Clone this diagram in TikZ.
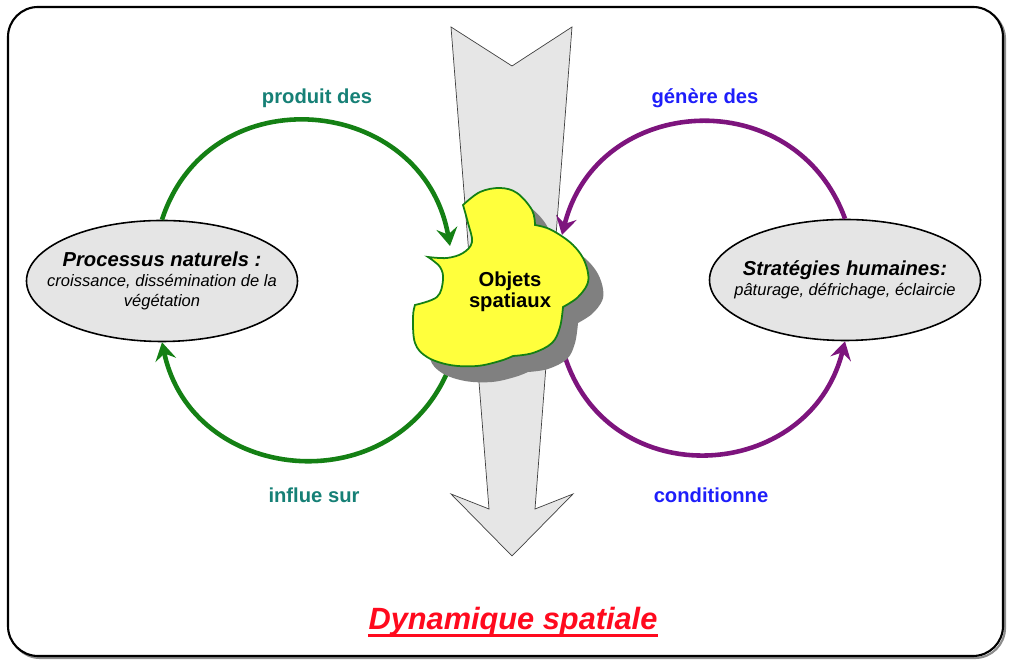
\documentclass[tikz,border=0pt]{standalone}
\usepackage{fontspec}
\setmainfont{Liberation Sans}
\usepackage{xcolor}
\usetikzlibrary{arrows.meta,shapes.geometric}
\definecolor{natgreen}{RGB}{20,128,20}
\definecolor{humpurple}{RGB}{125,20,125}
\definecolor{tealtxt}{RGB}{22,128,118}
\definecolor{bluetxt}{RGB}{30,30,250}
\definecolor{objyellow}{RGB}{255,255,60}
\definecolor{arrowgrey}{RGB}{230,230,230}
\definecolor{titlered}{RGB}{255,10,30}
\tikzset{
frame/.style={
draw=black,
fill=white,
line width=1.2pt,
rounded corners=6mm
},
frameshadow/.style={
draw=black!45,
line width=1.2pt,
rounded corners=6mm
},
bigarrow/.style={
draw=black!75,
fill=arrowgrey,
line width=0.4pt
},
ellipsebox/.style={
draw,
ellipse,
fill=black!10,
line width=0.9pt,
minimum width=54.2mm,
minimum height=24.2mm,
inner sep=0pt
},
ellipsetext/.style={
align=center,
font=\itshape\fontsize{9.4}{11.6}\selectfont
},
looplabel/.style={
font=\bfseries\fontsize{11.5}{13.8}\selectfont
},
natloop/.style={
natgreen,
line width=2.6pt,
-{Stealth[length=3.6mm,width=4.2mm,inset=1.3mm]}
},
humloop/.style={
humpurple,
line width=2.6pt,
-{Stealth[length=3.6mm,width=4.2mm,inset=1.3mm]}
}
}
\def\cloudpath{plot[smooth,tension=.6] coordinates {(463,459) (480,472) (500,476) (517,471) (532,454) (535,439)}
-- plot[smooth,tension=.6] coordinates {(535,439) (547,436) (560,429) (573,419) (583,406) (588,391) (587,379) (577,366) (563,357)}
-- plot[smooth,tension=.6] coordinates {(563,357) (560,337) (552,321) (533,311) (513,308)}
-- plot[smooth,tension=.6] coordinates {(513,308) (500,303) (477,298) (450,299) (427,307) (415,321) (413,347) (415,359)}
-- plot[smooth,tension=.6] coordinates {(415,359) (437,367) (443,384) (440,397) (428,407)}
-- plot[smooth,tension=.6] coordinates {(428,407) (447,406) (463,411) (472,422) (468,441) (463,459)}
-- cycle}

\begin{document}
\begin{tikzpicture}[x=0.2mm,y=0.2mm]
\useasboundingbox (0,0) rectangle (1010,664);
\draw[frameshadow] (10,6) rectangle (1005,655);
\draw[frame] (8,8) rectangle (1003,657);

\draw[bigarrow] (451,637) -- (512,598) -- (572,637) -- (535,155) -- (573,170)
  -- (512,108) -- (451,170) -- (489,155) -- cycle;

\node[ellipsebox] (nat) at (162,383) {};
\node[ellipsetext] (natText) at (nat) {{\bfseries\fontsize{11.5}{13.8}\selectfont Processus naturels :}\\croissance, dissémination de la\\végétation};
\node[ellipsebox] (hum) at (845,384) {};
\node[ellipsetext] (humText) at (hum) {{\bfseries\fontsize{11.5}{13.8}\selectfont Stratégies humaines:}\\pâturage, défrichage, éclaircie};

\coordinate (gTop) at (450,418);
\coordinate (gBot) at (447,291);
\coordinate (pTop) at (562,429);
\coordinate (pBot) at (565,307);

\draw[natloop] (nat.north) to[out=72,in=100,looseness=1.36] (gTop);
\draw[natloop] (gBot) to[out=-114,in=-78,looseness=1.28] (nat.south);
\draw[humloop] (hum.north) to[out=110,in=76,looseness=1.32] (pTop);
\draw[humloop] (pBot) to[out=-72,in=-104,looseness=1.33] (hum.south);

\fill[black!50,shift={(15,-16)}] \cloudpath;
\filldraw[fill=objyellow,draw=natgreen,line width=1pt] \cloudpath;
\node[align=center,font=\bfseries\fontsize{11.5}{12}\selectfont] (obj) at (510,372) {Objets\\spatiaux};

\node[looplabel,text=tealtxt] (prod) at (317,566) {produit des};
\node[looplabel,text=bluetxt] (gen) at (705,566) {génère des};
\node[looplabel,text=tealtxt] (infl) at (314,169) {influe sur};
\node[looplabel,text=bluetxt] (cond) at (711,169) {conditionne};

\node[anchor=base,inner sep=0pt,text=titlered,font=\bfseries\itshape\fontsize{17.5}{20}\selectfont] (dyn) at (513,34) {Dynamique spatiale};
\draw[titlered,line width=1.7pt] ([yshift=-1.2mm]dyn.base west) -- ([yshift=-1.2mm]dyn.base east);
\end{tikzpicture}
\end{document}
